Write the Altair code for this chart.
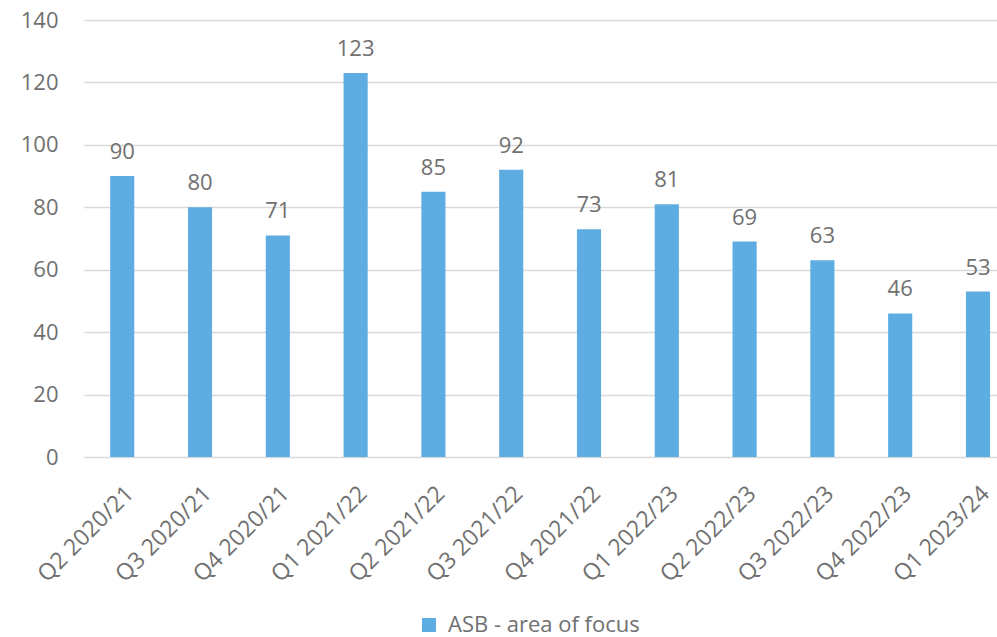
import altair as alt
import pandas as pd

quarters = [
    "Q2 2020/21", "Q3 2020/21", "Q4 2020/21", "Q1 2021/22",
    "Q2 2021/22", "Q3 2021/22", "Q4 2021/22", "Q1 2022/23",
    "Q2 2022/23", "Q3 2022/23", "Q4 2022/23", "Q1 2023/24",
]
counts = [90, 80, 71, 123, 85, 92, 73, 81, 69, 63, 46, 53]
series_name = "ASB - area of focus"

df = pd.DataFrame({"quarter": quarters, "count": counts, "series": series_name})

FONT = "Open Sans"
TEXT = "#707070"
BAR = "#5dade2"

x_enc = alt.X(
    "quarter:N",
    sort=quarters,
    title=None,
    scale=alt.Scale(paddingInner=0.69, paddingOuter=0.213, align=0.79),
    axis=alt.Axis(
        labelAngle=-45,
        labelAlign="right",
        labelBaseline="top",
        labelPadding=25,
        labelFontSize=23,
        labelFont=FONT,
        labelColor=TEXT,
        labelLimit=0,
        ticks=False,
        tickSize=0,
        domain=False,
        grid=False,
    ),
)

y_enc = alt.Y(
    "count:Q",
    title=None,
    scale=alt.Scale(domain=[0, 140], nice=False),
    axis=alt.Axis(
        values=[0, 20, 40, 60, 80, 100, 120, 140],
        labelFontSize=22,
        labelFont=FONT,
        labelColor=TEXT,
        labelPadding=26,
        ticks=False,
        tickSize=0,
        domain=False,
        gridColor="#d9d9d9",
        gridWidth=1.5,
    ),
)

base = alt.Chart(df).encode(x=x_enc, y=y_enc)

bars = base.mark_bar().encode(
    color=alt.Color(
        "series:N",
        scale=alt.Scale(domain=[series_name], range=[BAR]),
        legend=alt.Legend(
            title=None,
            orient="none",
            legendX=334,
            legendY=594,
            symbolType="square",
            symbolSize=196,
            symbolStrokeWidth=0,
            labelFontSize=22,
            labelFont=FONT,
            labelColor=TEXT,
            labelOffset=8,
            labelLimit=0,
        ),
    ),
)

# value labels above each bar
labels = base.mark_text(
    baseline="alphabetic",
    dy=-17,
    fontSize=22,
    font=FONT,
    color=TEXT,
).encode(text="count:Q")

chart = (
    alt.layer(bars, labels)
    .properties(
        width=913,
        height=437,
        background="white",
        autosize=alt.AutoSizeParams(type="none"),
        padding={"left": 84, "top": 20, "right": 0, "bottom": 180},
    )
    .configure_view(stroke=None, strokeWidth=0)
    .configure_axis(domain=False, ticks=False)
)

chart.save("out.html", embed_options={"renderer": "svg", "actions": False})
